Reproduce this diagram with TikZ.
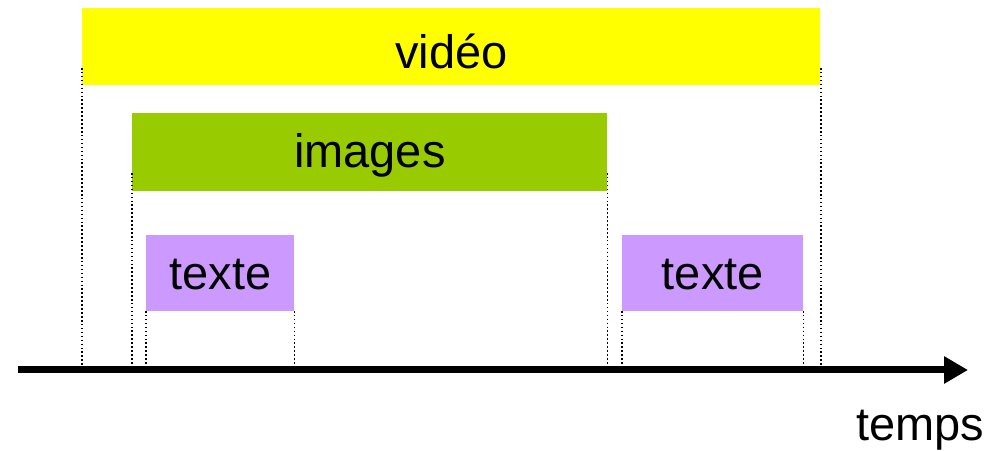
\documentclass[tikz,border=0pt]{standalone}
\usepackage{fontspec}
\setmainfont{Liberation Sans}
\usetikzlibrary{calc, positioning, arrows.meta}
\definecolor{jaune}{HTML}{FFFF00}
\definecolor{vert}{HTML}{99CC00}
\definecolor{mauve}{HTML}{CC99FF}
\newcommand{\gros}{\fontsize{33.4}{40}\selectfont}
\tikzset{
  bloc/.style={rectangle, inner sep=0pt, anchor=south west, font=\gros},
  trait/.style={line width=1.1pt, dash pattern=on 1.1pt off 1.7pt}
}

\begin{document}
\begin{tikzpicture}[x=0.025cm, y=-0.025cm]
\useasboundingbox (0,0) rectangle (1001,451);
\coordinate (t0) at (18,370);
\coordinate (t1) at (968,370);
\node[bloc, fill=jaune, minimum width=18.45cm, text height=1.525cm, text depth=0.4cm] (video) at (82,85) {vidéo};
\node[bloc, fill=vert, minimum width=11.875cm, text height=1.375cm, text depth=0.575cm] (images) at (132,191) {images};
\node[bloc, fill=mauve, minimum width=3.7cm, text height=1.375cm, text depth=0.525cm] (texteA) at (146,311) {texte};
\node[bloc, fill=mauve, minimum width=4.525cm, text height=1.375cm, text depth=0.525cm] (texteB) at (622,311) {texte};
\draw[trait] \foreach \b/\h in {video/17,images/18,texteA/0,texteB/0} {($(\b.south west)+(0,-\h)$) -- (\b.south west |- t0) ($(\b.south east)+(0,-\h)$) -- (\b.south east |- t0)};
\draw[line width=0.175cm, -{Triangle[length=0.6cm, width=0.65cm]}] (t0) -- (t1);
\node[font=\gros, anchor=base] (temps) at (920,441) {temps};
\end{tikzpicture}
\end{document}
